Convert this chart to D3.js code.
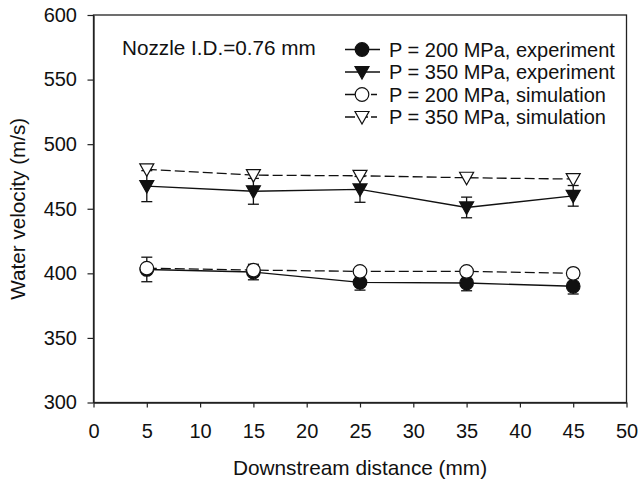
<!DOCTYPE html>
<html><head><meta charset="utf-8">
<script src="https://cdn.jsdelivr.net/npm/d3@7"></script>
<style>
html,body{margin:0;padding:0;background:#fff;}
text{font-family:"Liberation Sans",Arial,sans-serif;fill:#111;}
</style></head>
<body><svg id="c" width="638" height="483"></svg>
<script>
const distances = [5, 15, 25, 35, 45];
const exp200 = [403, 401, 393, 392.5, 390];
const err200 = [9.5, 6, 6, 6, 6];
const exp350 = [467.5, 463.5, 465, 451, 460];
const err350 = [12, 10, 10, 8, 8];
const sim200 = [404, 402.5, 401.5, 401.5, 400];
const sim350 = [480.5, 476, 475.5, 474, 473];
const xTicks = [0, 5, 10, 15, 20, 25, 30, 35, 40, 45, 50];
const yTicks = [300, 350, 400, 450, 500, 550, 600];
const legendLabels = ["P = 200 MPa, experiment", "P = 350 MPa, experiment", "P = 200 MPa, simulation", "P = 350 MPa, simulation"];
const annotation = "Nozzle I.D.=0.76 mm";
const xTitle = "Downstream distance (mm)";
const yTitle = "Water velocity (m/s)";

const svg = d3.select("#c");
const L = 93.5, R = 626.5, T = 15, B = 402.5;
const x = d3.scaleLinear().domain([0, 50]).range([L, R]);
const y = d3.scaleLinear().domain([300, 600]).range([B, T]);
const axisColor = "#222";

// frame
svg.append("rect").attr("x", L).attr("y", T).attr("width", R - L).attr("height", B - T)
  .attr("fill", "none").attr("stroke", axisColor).attr("stroke-width", 1.3);

const xa = svg.append("g").attr("transform", `translate(0,${B})`)
  .call(d3.axisBottom(x).tickValues(xTicks).tickSize(5).tickSizeOuter(0).tickPadding(16));
const ya = svg.append("g").attr("transform", `translate(${L},0)`)
  .call(d3.axisLeft(y).tickValues(yTicks).tickSize(6).tickSizeOuter(0).tickPadding(10.5));
[xa, ya].forEach(a => {
  a.select(".domain").attr("stroke", axisColor).attr("stroke-width", 1.3);
  a.selectAll(".tick line").attr("stroke", axisColor).attr("stroke-width", 1.2);
  a.selectAll("text").style("font-size", "20px").attr("fill", "#111");
});
xa.selectAll("text").attr("dy", null).attr("y", 0).attr("dominant-baseline", null)
  .attr("transform", "translate(0,35.5)");

svg.append("text").attr("x", (L + R) / 2).attr("y", 475).attr("text-anchor", "middle")
  .style("font-size", "20.8px").text(xTitle);
svg.append("text").attr("transform", `translate(25,${(T + B) / 2}) rotate(-90)`)
  .attr("text-anchor", "middle").style("font-size", "20.7px").text(yTitle);

svg.append("text").attr("x", 122).attr("y", 54.5).style("font-size", "20.7px").text(annotation);

const line = vals => d3.line().x((d, i) => x(distances[i])).y(d => y(d))(vals);

// lines
svg.append("path").attr("d", line(sim350)).attr("fill", "none").attr("stroke", "#111").attr("stroke-width", 1.3).attr("stroke-dasharray", "10,4");
svg.append("path").attr("d", line(sim200)).attr("fill", "none").attr("stroke", "#111").attr("stroke-width", 1.3).attr("stroke-dasharray", "10,4");
svg.append("path").attr("d", line(exp350)).attr("fill", "none").attr("stroke", "#111").attr("stroke-width", 1.4);
svg.append("path").attr("d", line(exp200)).attr("fill", "none").attr("stroke", "#111").attr("stroke-width", 1.4);

// error bars
function errBars(vals, errs) {
  const g = svg.append("g").attr("stroke", "#111").attr("stroke-width", 1.3);
  vals.forEach((v, i) => {
    const cx = x(distances[i]);
    g.append("line").attr("x1", cx).attr("x2", cx).attr("y1", y(v - errs[i])).attr("y2", y(v + errs[i]));
    [v - errs[i], v + errs[i]].forEach(e => g.append("line").attr("x1", cx - 5.5).attr("x2", cx + 5.5).attr("y1", y(e)).attr("y2", y(e)));
  });
}
errBars(exp350, err350);
errBars(exp200, err200);

function triangle(g, cx, cy, fill) {
  g.append("path").attr("d", "M-7,-5.5 L7,-5.5 L0,7 Z").attr("transform", `translate(${cx},${cy})`)
    .attr("fill", fill).attr("stroke", "#111").attr("stroke-width", 1.2);
}
function circle(g, cx, cy, fill) {
  g.append("circle").attr("cx", cx).attr("cy", cy).attr("r", 6.8).attr("fill", fill).attr("stroke", "#111").attr("stroke-width", 1.2);
}
const mk = svg.append("g");
exp350.forEach((v, i) => triangle(mk, x(distances[i]), y(v), "#111"));
exp200.forEach((v, i) => circle(mk, x(distances[i]), y(v), "#111"));
sim350.forEach((v, i) => triangle(mk, x(distances[i]), y(v), "#fff"));
sim200.forEach((v, i) => circle(mk, x(distances[i]), y(v), "#fff"));

// legend
const lg = svg.append("g");
const kinds = [["c", "#111", false], ["t", "#111", false], ["c", "#fff", true], ["t", "#fff", true]];
legendLabels.forEach((lab, i) => {
  const ly = 49.5 + i * 22.5;
  const k = kinds[i];
  const ln = lg.append("line").attr("x1", 345).attr("x2", k[2] ? 377 : 380).attr("y1", ly).attr("y2", ly)
    .attr("stroke", "#111").attr("stroke-width", 1.3);
  if (k[2]) ln.attr("stroke-dasharray", "10,3");
  if (k[0] === "c") circle(lg, 362, ly, k[1]); else triangle(lg, 362, ly, k[1]);
  lg.append("text").attr("x", 389).attr("y", ly + 7).style("font-size", "20px").text(lab);
});
</script></body></html>
